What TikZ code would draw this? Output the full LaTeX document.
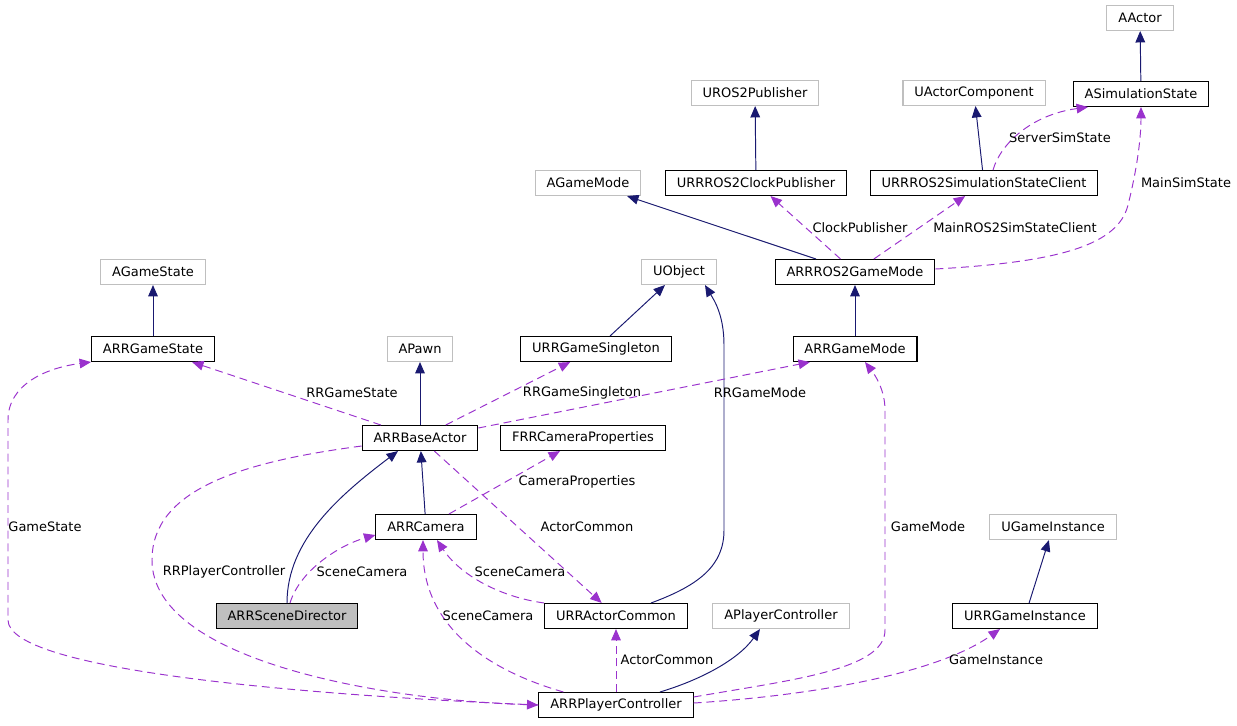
\documentclass[tikz,border=0pt]{standalone}
\usepackage{fontspec}
\setmainfont{DejaVu Sans}
\usepackage{tikz}
\usetikzlibrary{arrows.meta,calc}
\definecolor{edgeblue}{RGB}{25,25,112}
\definecolor{edgepurple}{RGB}{154,50,205}
\definecolor{boxgray}{RGB}{191,191,191}

\begin{document}
\begin{tikzpicture}[x=0.02cm,y=-0.02cm,
    font=\fontsize{7.4}{9}\selectfont,
    cls/.style={draw=black,fill=white,minimum height=0.5cm,inner xsep=6.5pt,inner ysep=0pt,line width=0.6pt},
    extcls/.style={cls,draw=boxgray},
    focuscls/.style={cls,fill=boxgray},
    inh/.style={draw=edgeblue,line width=0.55pt,-{Triangle[length=6.5pt,width=5.5pt]}},
    usage/.style={draw=edgepurple,line width=0.55pt,dash pattern=on 4.5pt off 2.8pt,-{Triangle[length=6.5pt,width=5.5pt]}},
    lbl/.style={inner sep=1pt}]
            \useasboundingbox (0,0) rectangle (1237,725);
            %Classes
            \node[extcls] (aactor) at (1140,18) {AActor};
            \node[cls] (asimstate) at (1141,94) {ASimulationState};
            \node[extcls] (uros2pub) at (755,93) {UROS2Publisher};
            \node[extcls] (uactorcomp) at (974,93) {UActorComponent};
            \node[extcls] (agamemode) at (588,183) {AGameMode};
            \node[cls] (clockpub) at (756,183) {URRROS2ClockPublisher};
            \node[cls] (simclient) at (984,183) {URRROS2SimulationStateClient};
            \node[extcls] (uobject) at (679,272) {UObject};
            \node[cls] (ros2gm) at (855,272) {ARRROS2GameMode};
            \node[extcls] (agamestate) at (153,272) {AGameState};
            \node[cls] (gamestate) at (153,349) {ARRGameState};
            \node[extcls] (apawn) at (420,349) {APawn};
            \node[cls] (singleton) at (596,349) {URRGameSingleton};
            \node[cls] (gamemode) at (855,349) {ARRGameMode};
            \node[cls] (baseactor) at (420,438) {ARRBaseActor};
            \node[cls] (camprops) at (583,438) {FRRCameraProperties};
            \node[cls] (camera) at (426,527) {ARRCamera};
            \node[extcls] (ugameinst) at (1053,527) {UGameInstance};
            \node[focuscls] (director) at (287,616) {ARRSceneDirector};
            \node[cls] (actorcommon) at (616,616) {URRActorCommon};
            \node[extcls] (aplayerctrl) at (781,616) {APlayerController};
            \node[cls] (gameinst) at (1025,616) {URRGameInstance};
            \node[cls] (playerctrl) at (616,705) {ARRPlayerController};
            %Inheritance
            \draw[inh] (asimstate) -- (aactor);
            \draw[inh] (clockpub) -- (uros2pub);
            \draw[inh] (simclient) -- (uactorcomp);
            \draw[inh] (ros2gm) -- (agamemode);
            \draw[inh] (gamemode) -- (ros2gm);
            \draw[inh] (gamestate) -- (agamestate);
            \draw[inh] (singleton) -- (uobject);
            \draw[inh] (baseactor) -- (apawn);
            \draw[inh] (camera) -- (baseactor);
            \draw[inh] (gameinst) -- (ugameinst);
            \draw[inh] ($(actorcommon.north)+(35,0)$) .. controls (700,585) and (724,565) .. (724,530) -- (724,345) .. controls (724,315) and (714,300) .. ($(uobject.south)+(26,0)$);
            \draw[inh] (director.north) .. controls (287,540) and (340,495) .. ($(baseactor.south)+(-22,0)$);
            \draw[inh] ($(playerctrl.north)+(44,0)$) .. controls (700,680) and (738,660) .. ($(aplayerctrl.south)+(-21,0)$);
            %Usage
            \draw[usage] ($(simclient.north)+(9,0)$) .. controls (1000,145) and (1030,115) .. ($(asimstate.south)+(-53,0)$);
            \draw[usage] ($(ros2gm.east)+(0,-3)$) .. controls (1060,262) and (1118,245) .. (1128,205) .. controls (1138,165) and (1141,135) .. (asimstate.south);
            \draw[usage] (ros2gm) -- (clockpub);
            \draw[usage] (ros2gm) -- (simclient);
            \draw[usage] (baseactor) -- (gamestate);
            \draw[usage] (baseactor) -- (singleton);
            \draw[usage] ($(baseactor.east)+(0,-10)$) -- ($(gamemode.south)+(-45,0)$);
            \draw[usage] (baseactor) -- (actorcommon);
            \draw[usage] (camera) -- (camprops);
            \draw[usage] ($(director.north)+(3,0)$) .. controls (300,570) and (340,545) .. ($(camera.west)+(0,8)$);
            \draw[usage] (actorcommon.north west) .. controls (500,597) and (460,575) .. ($(camera.south)+(11,0)$);
            \draw[usage] ($(playerctrl.north west)+(25,0)$) .. controls (470,665) and (423,615) .. ($(camera.south)+(-3,0)$);
            \draw[usage] (playerctrl) -- (actorcommon);
            \draw[usage] ($(playerctrl.east)+(0,-8)$) .. controls (790,680) and (885,670) .. (885,630) -- (885,410) .. controls (885,390) and (875,375) .. ($(gamemode.south)+(10,0)$);
            \draw[usage] ($(playerctrl.east)+(0,-2)$) .. controls (820,695) and (940,672) .. ($(gameinst.south)+(-25,0)$);
            \draw[usage] (playerctrl.west) .. controls (300,695) and (8,670) .. (8,620) -- (8,420) .. controls (8,385) and (45,368) .. (gamestate.south west);
            \draw[usage] ($(baseactor.west)+(0,8)$) .. controls (240,462) and (152,490) .. (152,560) .. controls (152,660) and (380,700) .. (playerctrl.west);
            %Labels
            \node[lbl] (lserversim) at (1060,138) {ServerSimState};
            \node[lbl] (lmainsim) at (1186,183) {MainSimState};
            \node[lbl] (lclockpub) at (860,228) {ClockPublisher};
            \node[lbl] (lmainclient) at (1015,228) {MainROS2SimStateClient};
            \node[lbl] (lrrgamestate) at (352,393) {RRGameState};
            \node[lbl] (lrrsingleton) at (582,393) {RRGameSingleton};
            \node[lbl] (lrrgamemode) at (760,393) {RRGameMode};
            \node[lbl] (lcamprops) at (577,482) {CameraProperties};
            \node[lbl] (lactorcommon) at (587,527) {ActorCommon};
            \node[lbl] (lgamestate) at (45,527) {GameState};
            \node[lbl] (lgamemode) at (928,527) {GameMode};
            \node[lbl] (lrrplayer) at (224,572) {RRPlayerController};
            \node[lbl] (lscenedir) at (362,572) {SceneCamera};
            \node[lbl] (lscenecommon) at (520,572) {SceneCamera};
            \node[lbl] (lsceneplayer) at (488,616) {SceneCamera};
            \node[lbl] (lactorplayer) at (667,660) {ActorCommon};
            \node[lbl] (lgameinst) at (996,660) {GameInstance};
\end{tikzpicture}
\end{document}
